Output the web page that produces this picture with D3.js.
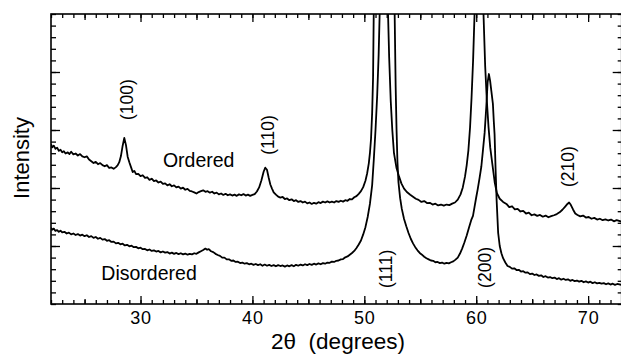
<!DOCTYPE html>
<html>
<head>
<meta charset="utf-8">
<script src="https://cdn.jsdelivr.net/npm/d3@7"></script>
<style>
  body { margin: 0; background: #fff; }
  svg { display: block; }
  text { font-family: "Liberation Sans", Arial, Helvetica, sans-serif; fill: #000; }
</style>
</head>
<body>
<div class="chart"></div>
<script>
var svgWidth = 621;
var svgHeight = 354;

// frame of the plot, in pixels
var frame = { left: 51, top: 14, right: 621.7, bottom: 304 };

// x ticks (2 theta, degrees)
var xMajorTicks = [30, 40, 50, 60, 70];
var xMediumTicks = [25, 35, 45, 55, 65];
var xMinorTicks = d3.range(22, 73, 1);

// y ticks (arbitrary intensity units)
var yMajorTicks = [20, 40, 60, 80];
var yMinorTicks = d3.range(0, 101, 4);

// Ordered sample: [2theta, intensity] (peaks above 100 are off the chart)
var ordered = [
  [22.0, 55.2], [22.1, 54.0], [22.25, 54.6], [22.4, 53.5], [22.55, 53.9], [22.7, 52.8], [22.85, 53.2],
  [23.0, 52.3], [23.15, 52.7], [23.3, 51.9], [23.5, 52.3], [23.65, 51.7], [23.8, 52.5], [24.0, 51.6],
  [24.2, 51.9], [24.4, 51.2], [24.6, 51.7], [24.8, 50.9], [25.0, 50.6], [25.2, 50.9], [25.4, 49.8],
  [25.6, 49.2], [25.8, 48.6], [26.0, 49.0], [26.2, 48.2], [26.4, 48.6], [26.6, 47.9], [26.8, 47.5],
  [27.0, 47.9], [27.2, 46.9], [27.4, 47.1], [27.6, 46.6], [27.8, 47.2], [27.95, 47.8], [28.1, 48.9],
  [28.25, 51.0], [28.4, 54.5], [28.55, 57.3], [28.7, 54.8], [28.85, 50.8], [29.0, 48.9], [29.15, 47.2],
  [29.3, 45.5], [29.45, 45.9], [29.6, 44.8], [29.8, 44.9], [30.0, 44.1], [30.2, 44.4], [30.4, 43.5],
  [30.6, 43.7], [30.8, 42.8], [31.0, 43.2], [31.2, 42.4], [31.4, 42.6], [31.6, 41.9], [31.8, 42.2],
  [32.0, 41.4], [32.2, 41.6], [32.4, 40.9], [32.6, 41.3], [32.8, 40.6], [33.0, 40.9], [33.2, 40.2],
  [33.4, 40.5], [33.6, 39.8], [33.8, 40.1], [34.0, 39.4], [34.2, 39.7], [34.4, 39.0], [34.6, 38.8],
  [34.8, 38.5], [35.0, 38.1], [35.2, 38.6], [35.4, 38.9], [35.6, 39.2], [35.8, 38.7], [36.0, 38.9],
  [36.2, 38.4], [36.4, 38.7], [36.6, 38.1], [36.8, 38.4], [37.0, 37.8], [37.2, 38.1], [37.4, 37.6],
  [37.6, 38.0], [37.8, 37.5], [38.0, 37.8], [38.2, 37.4], [38.4, 37.7], [38.6, 37.3], [38.8, 37.8],
  [39.0, 37.5], [39.2, 37.9], [39.4, 37.4], [39.6, 37.7], [39.8, 37.3], [40.0, 37.6], [40.2, 37.9],
  [40.4, 38.8], [40.6, 40.2], [40.8, 42.6], [41.0, 45.6], [41.15, 47.0], [41.3, 46.3], [41.45, 43.6],
  [41.6, 41.2], [41.75, 39.8], [41.9, 38.5], [42.1, 37.7], [42.3, 37.0], [42.5, 36.7], [42.7, 36.9],
  [42.9, 36.2], [43.1, 36.4], [43.3, 35.8], [43.5, 36.1], [43.7, 35.5], [43.9, 35.8], [44.1, 35.2],
  [44.3, 35.5], [44.5, 35.0], [44.7, 35.3], [44.9, 34.7], [45.1, 35.0], [45.3, 34.5], [45.5, 34.9],
  [45.7, 34.6], [45.9, 35.1], [46.1, 34.8], [46.3, 35.3], [46.5, 35.0], [46.7, 35.4], [46.9, 35.0],
  [47.1, 35.3], [47.3, 35.0], [47.5, 35.5], [47.7, 35.2], [47.9, 35.6], [48.1, 35.3], [48.3, 35.8],
  [48.5, 35.6], [48.7, 36.2], [48.9, 36.1], [49.1, 36.8], [49.3, 37.2], [49.5, 38.0], [49.7, 38.9],
  [49.9, 40.3], [50.1, 42.5], [50.25, 45.0], [50.4, 48.5], [50.5, 52.0], [50.6, 57.0], [50.7, 66.0],
  [50.78, 78.0], [50.84, 100], [50.95, 120], [51.48, 170], [52.0, 120], [52.12, 100], [52.22, 85],
  [52.36, 70], [52.5, 60], [52.65, 52], [52.87, 47], [53.1, 44], [53.31, 41.6], [53.55, 39.8],
  [53.8, 38.6], [54.1, 37.7], [54.35, 37.0], [54.6, 36.3], [54.85, 35.9], [55.1, 35.2], [55.35, 35.5],
  [55.6, 34.8], [55.85, 34.9], [56.1, 34.3], [56.35, 34.6], [56.6, 34.0], [56.85, 34.3], [57.1, 33.9],
  [57.35, 34.3], [57.6, 34.1], [57.85, 34.6], [58.1, 35.0], [58.35, 36.0], [58.6, 37.8], [58.8, 40.2],
  [59.0, 44.0], [59.15, 47.9], [59.3, 53.0], [59.45, 61.0], [59.58, 71.0], [59.72, 84.0], [59.85, 100],
  [59.95, 120], [60.26, 170], [60.55, 120], [60.65, 100], [60.8, 82], [60.95, 70], [61.1, 61],
  [61.25, 54], [61.45, 48], [61.65, 42], [61.85, 38.2], [62.1, 36.3], [62.4, 35.2], [62.7, 34.5],
  [62.95, 33.4], [63.2, 33.7], [63.45, 32.6], [63.7, 32.8], [63.95, 31.9], [64.2, 32.1], [64.45, 31.2],
  [64.7, 31.5], [64.95, 30.6], [65.2, 30.9], [65.45, 30.4], [65.7, 30.7], [65.95, 30.1], [66.2, 30.5],
  [66.45, 29.9], [66.7, 30.3], [66.95, 30.6], [67.2, 31.0], [67.45, 31.6], [67.7, 32.5], [67.95, 33.6],
  [68.15, 34.5], [68.3, 35.0], [68.45, 34.2], [68.65, 32.6], [68.85, 31.2], [69.05, 30.7], [69.3, 30.2],
  [69.55, 30.5], [69.8, 29.8], [70.05, 30.0], [70.3, 29.4], [70.55, 29.7], [70.8, 29.1], [71.05, 29.4],
  [71.3, 28.9], [71.55, 29.2], [71.8, 28.8], [72.05, 29.1], [72.3, 28.5], [72.55, 28.9], [73.0, 28.4]
];

// Disordered sample
var disordered = [
  [22.0, 26.3], [22.1, 25.6], [22.25, 26.0], [22.4, 25.2], [22.55, 25.5], [22.7, 24.9], [22.85, 25.3],
  [23.0, 24.7], [23.2, 24.9], [23.4, 24.3], [23.6, 24.6], [23.8, 24.0], [24.0, 24.3], [24.2, 23.8],
  [24.4, 24.1], [24.6, 23.6], [24.8, 23.9], [25.0, 23.4], [25.2, 23.7], [25.4, 23.1], [25.6, 23.4],
  [25.8, 22.8], [26.0, 23.1], [26.2, 22.5], [26.4, 22.8], [26.6, 22.2], [26.8, 22.4], [27.0, 21.8],
  [27.2, 22.0], [27.4, 21.4], [27.6, 21.5], [27.8, 20.9], [28.0, 21.1], [28.2, 20.6], [28.4, 20.8],
  [28.6, 20.2], [28.8, 20.4], [29.0, 19.9], [29.2, 20.1], [29.4, 19.6], [29.6, 19.7], [29.8, 19.2],
  [30.0, 19.4], [30.2, 18.9], [30.4, 19.0], [30.6, 18.5], [30.8, 18.8], [31.0, 18.3], [31.2, 18.5],
  [31.4, 18.1], [31.6, 18.3], [31.8, 17.8], [32.0, 18.1], [32.2, 17.7], [32.4, 17.9], [32.6, 17.4],
  [32.8, 17.7], [33.0, 17.3], [33.2, 17.6], [33.4, 17.2], [33.6, 17.5], [33.8, 17.1], [34.0, 17.4],
  [34.2, 17.0], [34.4, 17.3], [34.6, 17.1], [34.8, 17.5], [35.0, 17.3], [35.2, 17.8], [35.4, 18.2],
  [35.6, 18.6], [35.8, 19.1], [35.95, 18.7], [36.1, 18.9], [36.3, 18.2], [36.5, 17.9], [36.7, 17.3],
  [36.9, 16.9], [37.1, 16.6], [37.3, 16.0], [37.5, 16.0], [37.7, 15.4], [37.9, 15.4], [38.1, 14.9],
  [38.3, 15.0], [38.5, 14.5], [38.7, 14.6], [38.9, 14.1], [39.1, 14.3], [39.3, 13.9], [39.5, 14.1],
  [39.7, 13.7], [39.9, 13.9], [40.1, 13.5], [40.3, 13.8], [40.5, 13.4], [40.7, 13.7], [40.9, 13.2],
  [41.1, 13.6], [41.3, 13.2], [41.5, 13.5], [41.7, 13.1], [41.9, 13.4], [42.1, 13.0], [42.3, 13.4],
  [42.5, 13.1], [42.7, 13.3], [42.9, 12.9], [43.1, 13.3], [43.3, 13.0], [43.5, 13.4], [43.7, 13.0],
  [43.9, 13.5], [44.1, 13.2], [44.3, 13.6], [44.5, 13.3], [44.7, 13.7], [44.9, 13.4], [45.1, 13.8],
  [45.3, 13.5], [45.5, 13.9], [45.7, 13.6], [45.9, 14.0], [46.1, 13.7], [46.3, 14.1], [46.5, 13.9],
  [46.7, 14.3], [46.9, 14.2], [47.1, 14.6], [47.3, 14.5], [47.5, 14.9], [47.7, 15.0], [47.9, 15.4],
  [48.1, 15.5], [48.3, 16.1], [48.5, 16.4], [48.7, 17.0], [48.9, 17.6], [49.1, 18.3], [49.3, 19.3],
  [49.5, 20.5], [49.7, 21.9], [49.9, 24.0], [50.1, 26.5], [50.3, 30.0], [50.5, 34.5], [50.7, 41.0],
  [50.85, 50.0], [51.0, 60.0], [51.15, 72.0], [51.28, 86.0], [51.37, 100], [51.5, 120], [52.05, 170],
  [52.6, 120], [52.71, 100], [52.8, 75], [52.88, 60], [52.96, 49], [53.05, 42], [53.2, 36.5],
  [53.35, 32.8], [53.55, 29.3], [53.75, 26.8], [53.95, 24.5], [54.15, 22.5], [54.35, 20.9], [54.55, 19.6],
  [54.75, 18.5], [54.95, 17.6], [55.15, 17.0], [55.35, 16.3], [55.55, 15.8], [55.75, 15.4], [55.95, 15.0],
  [56.15, 14.9], [56.35, 14.4], [56.55, 14.5], [56.75, 14.1], [56.95, 14.3], [57.15, 13.9], [57.35, 14.2],
  [57.55, 14.0], [57.75, 14.4], [57.95, 14.7], [58.15, 15.3], [58.35, 16.0], [58.55, 17.4], [58.75, 19.2],
  [58.95, 21.3], [59.15, 23.6], [59.35, 26.3], [59.55, 28.9], [59.71, 30.4], [59.85, 33.5], [60.0, 36.8],
  [60.13, 39.5], [60.3, 43.5], [60.46, 47.5], [60.6, 53.0], [60.75, 59.0], [60.9, 68.0], [61.02, 76.5],
  [61.13, 79.3], [61.24, 77.0], [61.35, 73.5], [61.49, 69.0], [61.57, 63.0], [61.64, 58.5], [61.73, 46.5],
  [61.82, 36.0], [61.96, 24.5], [62.1, 20.0], [62.25, 17.5], [62.4, 15.8], [62.6, 14.3], [62.8, 13.1],
  [63.0, 12.8], [63.2, 12.2], [63.4, 12.3], [63.6, 11.7], [63.8, 11.8], [64.0, 11.2], [64.2, 11.3],
  [64.4, 10.8], [64.6, 10.9], [64.8, 10.3], [65.0, 10.5], [65.2, 10.0], [65.4, 10.2], [65.6, 9.7],
  [65.8, 9.9], [66.0, 9.3], [66.2, 9.6], [66.4, 9.1], [66.6, 9.3], [66.8, 8.9], [67.0, 9.1],
  [67.2, 8.6], [67.4, 8.9], [67.6, 8.4], [67.8, 8.7], [68.0, 8.3], [68.2, 8.5], [68.4, 8.0],
  [68.6, 8.3], [68.8, 7.9], [69.0, 8.1], [69.2, 7.7], [69.4, 8.0], [69.6, 7.5], [69.8, 7.8],
  [70.0, 7.4], [70.2, 7.7], [70.4, 7.2], [70.6, 7.5], [70.8, 7.1], [71.0, 7.3], [71.2, 7.0],
  [71.4, 7.2], [71.6, 6.8], [71.8, 7.1], [72.0, 6.7], [72.2, 7.0], [72.4, 6.6], [72.6, 6.9], [73.0, 6.6]
];

// peak labels: [text, 2theta, intensity at label centre]
var peakLabels = [
  ["(100)", 28.77, 70.5],
  ["(110)", 41.35, 58.3],
  ["(111)", 51.92, 12.1],
  ["(200)", 60.79, 12.6],
  ["(210)", 68.2, 47.4]
];

// curve names: [text, 2theta at left edge, intensity at baseline]
var curveNames = [
  ["Ordered", 32.0, 47.1],
  ["Disordered", 26.5, 8.3]
];

var svg = d3.select(".chart")
  .append("svg")
  .attr("width", svgWidth)
  .attr("height", svgHeight);

var xScale = d3.scaleLinear()
  .domain([22, 73])
  .range([frame.left, frame.right]);

var yScale = d3.scaleLinear()
  .domain([0, 100])
  .range([frame.bottom, frame.top]);

// clip the curves to the frame
svg.append("clipPath")
  .attr("id", "plotClip")
  .append("rect")
  .attr("x", frame.left)
  .attr("y", frame.top)
  .attr("width", frame.right - frame.left)
  .attr("height", frame.bottom - frame.top);

// inward ticks on all four sides
function tickAxis(axisFn, scale, values, size, transform) {
  var g = svg.append("g")
    .attr("transform", transform)
    .call(axisFn(scale).tickValues(values).tickSize(-size).tickFormat(""));
  g.select(".domain").remove();
  g.selectAll("line").attr("stroke", "#000").attr("stroke-width", 1.3);
  return g;
}

var bottomT = `translate(0, ${frame.bottom})`;
var topT = `translate(0, ${frame.top})`;
var leftT = `translate(${frame.left}, 0)`;
var rightT = `translate(${frame.right}, 0)`;

tickAxis(d3.axisBottom, xScale, xMinorTicks, 4, bottomT);
tickAxis(d3.axisBottom, xScale, xMediumTicks, 5, bottomT);
tickAxis(d3.axisBottom, xScale, xMajorTicks, 8, bottomT);
tickAxis(d3.axisTop, xScale, xMinorTicks, 4, topT);
tickAxis(d3.axisTop, xScale, xMediumTicks, 6, topT);
tickAxis(d3.axisTop, xScale, xMajorTicks, 8, topT);
tickAxis(d3.axisLeft, yScale, yMinorTicks, 5, leftT);
tickAxis(d3.axisLeft, yScale, yMajorTicks, 9, leftT);
tickAxis(d3.axisRight, yScale, yMinorTicks, 4, rightT);
tickAxis(d3.axisRight, yScale, yMajorTicks, 9, rightT);

// x tick labels
var xLabels = svg.append("g")
  .attr("transform", bottomT)
  .call(d3.axisBottom(xScale).tickValues(xMajorTicks).tickSize(0).tickPadding(7));
xLabels.select(".domain").remove();
xLabels.selectAll("text")
  .style("font-size", "18px")
  .style("letter-spacing", "0.8px")
  .attr("fill", "#000");

// frame
svg.append("rect")
  .attr("x", frame.left)
  .attr("y", frame.top)
  .attr("width", frame.right - frame.left)
  .attr("height", frame.bottom - frame.top)
  .attr("fill", "none")
  .attr("stroke", "#000")
  .attr("stroke-width", 1.6);

// curves
var line = d3.line()
  .x(d => xScale(d[0]))
  .y(d => yScale(d[1]));

var curves = svg.append("g").attr("clip-path", "url(#plotClip)");
[ordered, disordered].forEach(function(series) {
  curves.append("path")
    .datum(series)
    .attr("d", line)
    .attr("fill", "none")
    .attr("stroke", "#000")
    .attr("stroke-width", 1.8)
    .attr("stroke-linejoin", "round");
});

// peak (hkl) labels, rotated
svg.selectAll(".peakLabel")
  .data(peakLabels)
  .enter()
  .append("text")
  .attr("class", "peakLabel")
  .attr("transform", d => `translate(${xScale(d[1])}, ${yScale(d[2])}) rotate(-90)`)
  .attr("text-anchor", "middle")
  .attr("dy", "0.35em")
  .style("font-size", "17.5px")
  .text(d => d[0]);

// curve names
svg.selectAll(".curveName")
  .data(curveNames)
  .enter()
  .append("text")
  .attr("class", "curveName")
  .attr("x", d => xScale(d[1]))
  .attr("y", d => yScale(d[2]))
  .style("font-size", "19.5px")
  .text(d => d[0]);

// axis titles
svg.append("text")
  .attr("transform", "translate(28.5, 158) rotate(-90)")
  .attr("text-anchor", "middle")
  .style("font-size", "22px")
  .text("Intensity");

svg.append("text")
  .attr("x", 338)
  .attr("y", 349)
  .attr("text-anchor", "middle")
  .style("font-size", "22.5px")
  .style("white-space", "pre")
  .text("2θ  (degrees)");
</script>
</body>
</html>
